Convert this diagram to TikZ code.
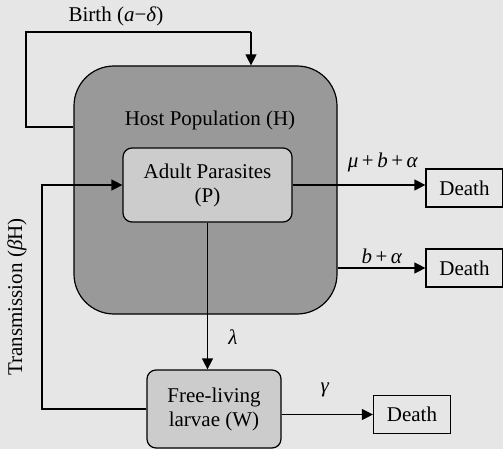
\documentclass[tikz,border=0pt]{standalone}
\usepackage{fontspec}
\setmainfont{Liberation Serif}
\usetikzlibrary{arrows.meta}
\definecolor{bggray}{HTML}{E6E6E6}
\definecolor{hostgray}{HTML}{999999}
\definecolor{boxgray}{HTML}{CCCCCC}
\begin{document}
\begin{tikzpicture}[
    x=1pt, y=-1pt,
    every node/.style={font=\fontsize{21}{24}\selectfont},
    host/.style={draw, line width=1.2pt, fill=hostgray, rounded corners=40pt, minimum width=263pt, minimum height=248pt},
    comp/.style={draw, line width=1.2pt, fill=boxgray, rounded corners=9pt, align=center},
    death/.style={draw, line width=1.2pt, minimum width=77pt, minimum height=38pt},
    arr/.style={-{Triangle[length=11pt,width=11pt]}, line width=1.2pt},
    lbl/.style={inner sep=0pt}
]
\useasboundingbox[fill=bggray] (0,0) rectangle (503,449);

% Compartments
\node[host] (host) at (205.5,190) {};
\node[lbl] (hostname) at (210,120) {Host Population (H)};
\node[comp, minimum width=169pt, minimum height=74pt] (adult) at (207.5,185) {Adult Parasites\\(P)};
\node[comp, minimum width=134pt, minimum height=78pt] (larvae) at (214,409) {Free-living\\larvae (W)};

% Death boxes
\node[death] (death1) at (464.5,188) {Death};
\node[death] (death2) at (464.5,268) {Death};
\node[death] (death3) at (412,414.5) {Death};

% Birth loop
\coordinate (birthout) at (26,127);
\coordinate (birthtop) at (251,32);
\draw[line width=1.2pt] (host.west |- birthout) -- (birthout) |- (birthtop);
\draw[arr] (birthtop) -- (birthtop |- host.north);
\node[lbl] (birthlbl) at (116,16) {Birth (\textit{a}−\textit{δ})};

% Transmission loop
\coordinate (transcorner) at (42,409);
\draw[arr] (larvae.west |- transcorner) -- (transcorner) |- (adult.west);
\node[lbl, rotate=90] (translbl) at (17,297) {Transmission (\textit{β}H)};

% Outflows
\draw[arr] (adult.east) -- (death1.west |- adult.east);
\node[lbl] (mulbl) at (383,162) {\textit{μ}\,+\,\textit{b}\,+\,\textit{α}};
\draw[arr] (host.east |- death2.west) -- (death2.west);
\node[lbl] (balbl) at (382,256) {\textit{b}\,+\,\textit{α}};
\draw[arr] (adult.south) -- (adult.south |- larvae.north);
\node[lbl] (lamlbl) at (233,337) {\textit{λ}};
\draw[arr] (larvae.east |- death3.west) -- (death3.west);
\node[lbl] (gamlbl) at (325,390) {\textit{γ}};
\end{tikzpicture}
\end{document}
